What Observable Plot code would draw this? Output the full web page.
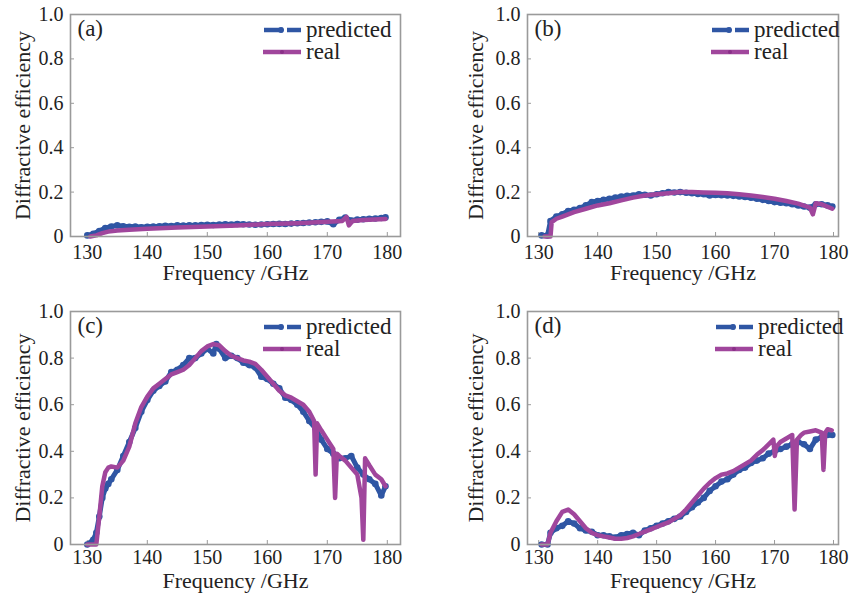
<!DOCTYPE html>
<html>
<head>
<meta charset="utf-8">
<script src="https://cdn.jsdelivr.net/npm/d3@7"></script>
<script src="https://cdn.jsdelivr.net/npm/@observablehq/plot@0.6"></script>
<style>
  html, body { margin: 0; padding: 0; background: #fff; }
  #wrap { position: relative; width: 853px; height: 594px; overflow: hidden; font-family: "Liberation Serif", "Tinos", "Times New Roman", "DejaVu Serif", serif; }
  .panel { position: absolute; }
  .leg { position: absolute; font-size: 23px; color: #222; line-height: 1; white-space: nowrap; }
  .leg svg { vertical-align: middle; }
</style>
</head>
<body>
<div id="wrap"></div>
<script>
// ---------- data ----------
const xTicks = [130, 140, 150, 160, 170, 180];
const yTicks = [0, 0.2, 0.4, 0.6, 0.8, 1.0];
const seriesNames = ["predicted", "real"];
const panelLabels = ["(a)", "(b)", "(c)", "(d)"];

// (a)
const predFreqA = [130,131,132,133,134,135,136,137,138,139,140,141,142,143,144,145,146,147,148,149,150,151,152,153,154,155,156,157,158,159,160,161,162,163,164,165,166,167,168,169,170,171,172,173,174,175,176,177,178,179,179.7];
const predEffA  = [0.005,0.012,0.025,0.038,0.045,0.05,0.046,0.044,0.045,0.042,0.044,0.045,0.046,0.048,0.047,0.05,0.049,0.051,0.05,0.052,0.053,0.052,0.054,0.055,0.054,0.056,0.055,0.054,0.053,0.054,0.055,0.056,0.057,0.056,0.058,0.06,0.061,0.063,0.064,0.066,0.068,0.055,0.075,0.085,0.072,0.076,0.078,0.08,0.081,0.083,0.086];
const realFreqA = [130.5,131.5,132.5,133.5,135,137,140,145,150,155,160,165,170,172.5,173.2,173.6,174.2,176,179.7];
const realEffA  = [0,0.005,0.015,0.022,0.027,0.03,0.035,0.04,0.045,0.05,0.056,0.06,0.066,0.07,0.088,0.05,0.07,0.074,0.079];

// (b)
const predFreqB = [130.5,131.5,132,133,134,135,136,137,138,139,140,141,142,143,144,145,146,147,148,149,150,151,152,153,154,155,156,157,158,159,160,161,162,163,164,165,166,167,168,169,170,171,172,173,174,175,176,177,178,179,179.8];
const predEffB  = [0.005,0.005,0.07,0.09,0.1,0.115,0.12,0.128,0.14,0.155,0.16,0.165,0.17,0.175,0.18,0.183,0.185,0.19,0.188,0.185,0.19,0.195,0.2,0.198,0.2,0.197,0.195,0.192,0.19,0.185,0.187,0.186,0.185,0.183,0.18,0.178,0.175,0.17,0.165,0.16,0.155,0.152,0.15,0.145,0.14,0.135,0.13,0.145,0.145,0.14,0.135];
const realFreqB = [131,132,132.2,133,134,135,136,138,140,142,144,146,148,150,152,154,156,158,160,162,164,166,168,170,172,174,176,176.5,177,178,179.8];
const realEffB  = [0,0,0.065,0.08,0.09,0.1,0.11,0.125,0.14,0.15,0.163,0.175,0.185,0.19,0.195,0.2,0.2,0.198,0.197,0.195,0.19,0.185,0.178,0.17,0.16,0.148,0.13,0.1,0.15,0.145,0.125];

// (c)
const predFreqC = [130,131,131.5,132,132.5,133,133.5,134,135,136,137,138,139,140,141,142,143,144,145,146,147,148,149,150,151,151.5,152,153,154,155,156,157,158,159,160,161,162,163,164,165,166,167,168,169,170,171,172,173,174,175,176,177,178,179,179.7];
const predEffC  = [0,0.02,0.05,0.12,0.2,0.24,0.26,0.28,0.32,0.38,0.44,0.5,0.57,0.62,0.66,0.68,0.7,0.74,0.75,0.77,0.8,0.8,0.82,0.84,0.82,0.86,0.84,0.8,0.81,0.8,0.78,0.77,0.76,0.72,0.71,0.69,0.67,0.63,0.62,0.6,0.57,0.53,0.5,0.45,0.41,0.39,0.37,0.37,0.38,0.33,0.3,0.28,0.26,0.21,0.25];
const realFreqC = [130,131.5,132,132.5,133,133.5,134,135,136,137,138,139,140,141,142,143,144,145,146,147,148,149,150,151,152,153,154,155,156,157,158,159,160,161,162,163,164,165,166,167,167.8,168.05,168.3,169,170,171,171.3,171.6,172,173,174,175,175.7,176,176.3,177,178,179,179.7];
const realEffC  = [0,0,0.12,0.25,0.31,0.33,0.335,0.33,0.36,0.42,0.52,0.59,0.635,0.67,0.69,0.71,0.73,0.74,0.75,0.77,0.8,0.83,0.85,0.86,0.855,0.83,0.81,0.8,0.79,0.785,0.775,0.75,0.72,0.69,0.66,0.64,0.63,0.615,0.6,0.57,0.53,0.3,0.52,0.49,0.45,0.41,0.2,0.39,0.38,0.36,0.33,0.3,0.2,0.02,0.37,0.34,0.3,0.28,0.25];

// (d)
const predFreqD = [130.5,131.5,132,133,134,135,136,137,138,139,140,141,142,143,144,145,146,147,148,149,150,151,152,153,154,155,156,157,158,159,160,161,162,163,164,165,166,167,168,169,170,171,172,173,174,175,176,177,178,179,179.8];
const predEffD  = [0,0,0.05,0.07,0.08,0.1,0.09,0.07,0.06,0.055,0.04,0.04,0.035,0.03,0.04,0.045,0.05,0.04,0.06,0.07,0.08,0.09,0.1,0.11,0.12,0.14,0.16,0.18,0.2,0.23,0.25,0.27,0.28,0.3,0.32,0.33,0.35,0.36,0.37,0.39,0.4,0.41,0.42,0.43,0.44,0.43,0.41,0.45,0.46,0.47,0.47];
const realFreqD = [130.5,131.5,132,133,134,135,136,137,138,139,140,141,142,143,144,145,146,147,148,149,150,151,152,153,154,155,156,157,158,159,160,161,162,163,164,165,166,167,168,169,169.8,170.05,170.3,171,172,173,173.4,173.8,174.5,175,176,177,178,178.3,178.6,179,179.7];
const realEffD  = [0,0,0.05,0.1,0.14,0.15,0.13,0.1,0.07,0.05,0.04,0.035,0.03,0.025,0.025,0.028,0.035,0.045,0.055,0.065,0.075,0.085,0.095,0.11,0.125,0.15,0.18,0.21,0.24,0.265,0.285,0.3,0.305,0.315,0.33,0.345,0.36,0.385,0.405,0.43,0.45,0.38,0.42,0.44,0.455,0.47,0.15,0.45,0.47,0.48,0.485,0.49,0.48,0.32,0.48,0.495,0.49];

// ---------- styling ----------
const BLUE = "#2f56a4";
const PURPLE = "#a0469c";
const FRAME = "#9a9a9a";
const SERIF = "'Liberation Serif', 'Tinos', 'Times New Roman', 'DejaVu Serif', serif";

const panels = [
  {label: panelLabels[0], pf: predFreqA, pe: predEffA, rf: realFreqA, re: realEffA, left: 0,   top: 0,   width: 430, height: 297, ml: 70, mr: 30, mt: 14, mb: 61, xd: [127.2, 182.2], tp: 8, ty: 36, yt: -48, legX: 263},
  {label: panelLabels[1], pf: predFreqB, pe: predEffB, rf: realFreqB, re: realEffB, left: 430, top: 0,   width: 423, height: 297, ml: 97, mr: 15, mt: 14, mb: 61, xd: [128.1, 180.85], tp: 8, ty: 36, yt: -52, legX: 711},
  {label: panelLabels[2], pf: predFreqC, pe: predEffC, rf: realFreqC, re: realEffC, left: 0,   top: 297, width: 430, height: 297, ml: 70, mr: 30, mt: 14, mb: 50, xd: [127.2, 182.2], tp: 5, ty: 36, yt: -48, legX: 263},
  {label: panelLabels[3], pf: predFreqD, pe: predEffD, rf: realFreqD, re: realEffD, left: 430, top: 297, width: 423, height: 297, ml: 97, mr: 15, mt: 14, mb: 50, xd: [128.1, 180.85], tp: 5, ty: 36, yt: -52, legX: 715}
];

const wrap = document.getElementById("wrap");
const fmtY = d => d === 0 ? "0" : d.toFixed(1);

for (const p of panels) {
  const pred = p.pf.map((f, i) => ({f, e: p.pe[i]}));
  const real = p.rf.map((f, i) => ({f, e: p.re[i]}));
  const chart = Plot.plot({
    width: p.width, height: p.height,
    marginLeft: p.ml, marginRight: p.mr, marginTop: p.mt, marginBottom: p.mb,
    x: {domain: p.xd},
    y: {domain: [0, 1]},
    style: {fontFamily: SERIF, fontSize: "20px", color: "#222", background: "transparent", overflow: "visible"},
    marks: [
      Plot.axisX(xTicks, {tickSize: 0, tickPadding: p.tp, label: null, fontSize: 20, fontFamily: SERIF}),
      Plot.axisX(xTicks, {tickSize: -4, text: null, label: null, stroke: FRAME}),
      Plot.axisY(yTicks, {tickSize: 0, tickPadding: 7, tickFormat: fmtY, label: null, fontSize: 20, fontFamily: SERIF}),
      Plot.axisY(yTicks, {tickSize: -4, text: null, label: null, stroke: FRAME}),
      Plot.line(pred, {x: "f", y: "e", stroke: BLUE, strokeWidth: 5}),
      Plot.dot(pred, {x: "f", y: "e", r: 3.3, fill: BLUE}),
      Plot.line(real, {x: "f", y: "e", stroke: PURPLE, strokeWidth: 4.5, strokeLinejoin: "round"}),
      Plot.frame({stroke: FRAME, strokeWidth: 1.6}),
      Plot.text([p.label], {frameAnchor: "top-left", textAnchor: "start", lineAnchor: "middle", dx: 7, dy: 14, fontSize: 23, fill: "#222", fontFamily: SERIF}),
      Plot.text(["Frequency /GHz"], {frameAnchor: "bottom", textAnchor: "middle", lineAnchor: "middle", dy: p.ty, fontSize: 22, fill: "#222", fontFamily: SERIF}),
      Plot.text(["Diffractive efficiency"], {frameAnchor: "left", textAnchor: "middle", lineAnchor: "middle", rotate: -90, dx: p.yt, fontSize: 22, fill: "#222", fontFamily: SERIF})
    ]
  });
  chart.classList.add("panel");
  chart.style.left = p.left + "px";
  chart.style.top = p.top + "px";
  wrap.appendChild(chart);

  // legend (inside top-right of each panel)
  const rows = [
    {name: seriesNames[0], y: p.top + 28, color: BLUE, dashed: true},
    {name: seriesNames[1], y: p.top + 50, color: PURPLE, dashed: false}
  ];
  for (const r of rows) {
    const div = document.createElement("div");
    div.className = "leg";
    div.style.left = p.legX + "px";
    div.style.top = (r.y - 12) + "px";
    const sample = r.dashed
      ? `<svg width="40" height="24"><line x1="1" y1="12" x2="20" y2="12" stroke="${r.color}" stroke-width="4.5"/><circle cx="18" cy="12" r="3" fill="${r.color}"/><line x1="24" y1="12" x2="38" y2="12" stroke="${r.color}" stroke-width="4.5"/></svg>`
      : `<svg width="40" height="24"><line x1="0" y1="12" x2="38" y2="12" stroke="${r.color}" stroke-width="4.5"/><circle cx="19" cy="12" r="2" fill="#8a3088"/></svg>`;
    div.innerHTML = sample + `<span style="margin-left:3px;vertical-align:middle">${r.name}</span>`;
    wrap.appendChild(div);
  }
}
</script>
</body>
</html>
